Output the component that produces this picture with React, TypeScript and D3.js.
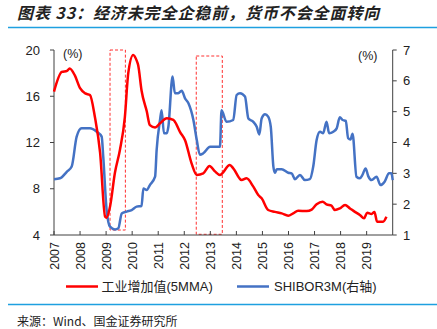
import React from "react";
import * as d3 from "d3";

const ivaDates = [2007.0,2007.3,2007.5,2007.6,2007.8,2008.0,2008.2,2008.38,2008.57,2008.77,2008.96,2009.02,2009.15,2009.34,2009.53,2009.72,2009.85,2010.04,2010.17,2010.23,2010.36,2010.56,2010.68,2010.88,2011.07,2011.33,2011.58,2011.64,2011.84,2012.03,2012.28,2012.48,2012.73,2012.97,2013.18,2013.37,2013.75,2013.88,2014.2,2014.39,2014.65,2014.84,2014.97,2015.22,2015.48,2015.74,2015.99,2016.18,2016.37,2016.7,2016.89,2017.08,2017.31,2017.46,2017.65,2017.78,2017.97,2018.17,2018.36,2018.55,2018.74,2018.9,2019.02,2019.19,2019.3,2019.4,2019.63,2019.76];
const ivaValues = [16.4,18.1,18.2,18.4,17.8,16.7,16.25,16.1,14.2,11.1,5.6,5.5,6.45,9.4,11.35,14.2,18.0,19.57,19.1,18.7,16.5,14.7,13.5,13.3,13.66,14.1,13.95,13.8,12.9,12.2,10.2,9.2,9.33,9.97,9.5,9.2,10.05,9.77,8.75,8.9,8.18,7.46,7.17,6.16,6.0,5.87,5.67,5.87,6.1,6.07,6.2,6.65,6.88,6.65,6.54,6.16,6.3,6.6,6.3,6.0,5.73,5.44,5.93,5.82,6.0,5.15,5.15,5.58];

const shiborDates = [2007.0,2007.23,2007.49,2007.68,2007.87,2008.06,2008.38,2008.64,2008.83,2008.89,2009.02,2009.15,2009.34,2009.47,2009.6,2009.79,2009.98,2010.17,2010.36,2010.43,2010.56,2010.68,2010.88,2010.94,2011.07,2011.13,2011.22,2011.33,2011.39,2011.55,2011.64,2011.77,2011.9,2012.03,2012.16,2012.35,2012.48,2012.6,2012.73,2012.99,2013.37,2013.43,2013.62,2013.88,2014.01,2014.14,2014.33,2014.46,2014.65,2014.78,2014.88,2014.97,2015.1,2015.22,2015.32,2015.42,2015.48,2015.55,2015.74,2015.99,2016.12,2016.25,2016.44,2016.63,2016.82,2016.95,2017.08,2017.21,2017.33,2017.46,2017.56,2017.72,2017.85,2017.97,2018.08,2018.2,2018.29,2018.38,2018.46,2018.61,2018.74,2018.84,2018.96,2019.06,2019.19,2019.38,2019.53,2019.69,2019.86,2019.95,2020.0];
const shiborValues = [2.81,2.84,3.05,3.22,4.19,4.46,4.46,4.35,4.19,3.54,1.81,1.27,1.18,1.22,1.7,1.76,1.81,1.92,1.94,2.51,2.46,2.62,2.89,3.76,4.73,5.05,4.3,4.3,4.51,6.14,5.6,5.6,5.68,5.43,5.27,4.73,4.08,3.6,3.65,3.86,3.86,5.05,4.67,4.73,5.54,5.6,5.49,4.78,4.67,4.51,4.26,4.78,4.92,4.84,4.51,3.22,3.02,3.13,3.13,3.02,3.0,2.81,2.95,2.78,2.81,3.22,4.08,4.35,4.3,4.67,4.3,4.35,4.46,4.82,4.73,4.7,4.14,4.1,4.28,2.89,2.84,2.95,3.16,2.91,2.78,2.89,2.62,2.73,3.0,3.0,2.78];

const yearTicks = [2007,2008,2009,2010,2011,2012,2013,2014,2015,2016,2017,2018,2019];
const leftTicks = [4,8,12,16,20];
const rightTicks = [1,2,3,4,5,6,7];
// highlight boxes: [x0, x1, yTop, yBottom] in data units (left axis)
const boxStarts = [2009.15, 2012.46];
const boxEnds = [2009.74, 2013.46];
const boxTops = [20, 19.48];
const boxBottoms = [4.43, 4.06];

const FONT = "'Liberation Sans', Arial, 'Noto Sans CJK SC', sans-serif";
const CJK = "'Noto Sans CJK SC', 'Liberation Sans', sans-serif";

export default function App() {
  const x = d3.scaleLinear().domain([2007, 2020]).range([54, 392.7]);
  const yL = d3.scaleLinear().domain([4, 20]).range([235, 50]);
  const yR = d3.scaleLinear().domain([1, 7]).range([235, 50]);
  const axisColor = "#404040";

  const redLine = d3.line<number>().x((_, i) => x(ivaDates[i])).y((d) => yL(d)).curve(d3.curveMonotoneX)(ivaValues) || "";
  const blueLine = d3.line<number>().x((_, i) => x(shiborDates[i])).y((d) => yR(d)).curve(d3.curveMonotoneX)(shiborValues) || "";

  return (
    <svg width={437} height={329} style={{ position: "absolute", left: 0, top: 0, background: "#fff" }}>
      <text x={17} y={18.5} fontFamily={CJK} fontSize={16} fontWeight="bold" fontStyle="italic" letterSpacing={0.9} fill="#222">图表 33：经济未完全企稳前，货币不会全面转向</text>
      <line x1={8} x2={437} y1={27.5} y2={27.5} stroke="#1ea0e0" strokeWidth={1.3} />

      {/* highlight boxes */}
      {boxStarts.map((b, i) => (
        <rect key={i} x={x(b)} y={yL(boxTops[i])} width={x(boxEnds[i]) - x(b)} height={yL(boxBottoms[i]) - yL(boxTops[i])}
          fill="none" stroke="#ff3030" strokeWidth={1} strokeDasharray="3,2" />
      ))}

      {/* axes */}
      <line x1={54} x2={54} y1={50} y2={235} stroke={axisColor} />
      <line x1={392.7} x2={392.7} y1={50} y2={235} stroke={axisColor} />
      <line x1={54} x2={392.7} y1={235} y2={235} stroke={axisColor} />
      {leftTicks.map((t) => (
        <g key={t}>
          <line x1={50} x2={54} y1={yL(t)} y2={yL(t)} stroke={axisColor} />
          <text x={40} y={yL(t)} dy="0.35em" textAnchor="end" fontFamily={FONT} fontSize={13} fill="#222">{t}</text>
        </g>
      ))}
      {rightTicks.map((t) => (
        <g key={t}>
          <line x1={392.7} x2={396.7} y1={yR(t)} y2={yR(t)} stroke={axisColor} />
          <text x={403} y={yR(t)} dy="0.35em" textAnchor="start" fontFamily={FONT} fontSize={13} fill="#222">{t}</text>
        </g>
      ))}
      {yearTicks.map((t) => (
        <g key={t}>
          <line x1={x(t)} x2={x(t)} y1={235} y2={231} stroke={axisColor} />
          <text transform={`translate(${x(t) + 4.5},${242}) rotate(-90)`} textAnchor="end" fontFamily={FONT} fontSize={12.5} fill="#222">{t}</text>
        </g>
      ))}
      <text x={63} y={58} fontFamily={FONT} fontSize={12.5} fill="#222">(%)</text>
      <text x={358} y={60} fontFamily={FONT} fontSize={12.5} fill="#222">(%)</text>

      {/* lines */}
      <path d={blueLine} fill="none" stroke="#4472c4" strokeWidth={2.5} strokeLinejoin="round" />
      <path d={redLine} fill="none" stroke="#ff0000" strokeWidth={2.5} strokeLinejoin="round" />

      {/* legend */}
      <line x1={66} x2={98} y1={286.5} y2={286.5} stroke="#ff0000" strokeWidth={2.5} />
      <text x={101.5} y={291} fontFamily={FONT} fontSize={13} fill="#222">工业增加值(5MMA)</text>
      <line x1={237} x2={269} y1={286.5} y2={286.5} stroke="#4472c4" strokeWidth={2.5} />
      <text x={274} y={291} fontFamily={FONT} fontSize={13} fill="#222">SHIBOR3M(右轴)</text>

      <line x1={8} x2={437} y1={304.5} y2={304.5} stroke="#1ea0e0" strokeWidth={1.3} />
      <text x={17} y={326} fontFamily={CJK} fontSize={12} fill="#222">来源：Wind、国金证券研究所</text>
    </svg>
  );
}
